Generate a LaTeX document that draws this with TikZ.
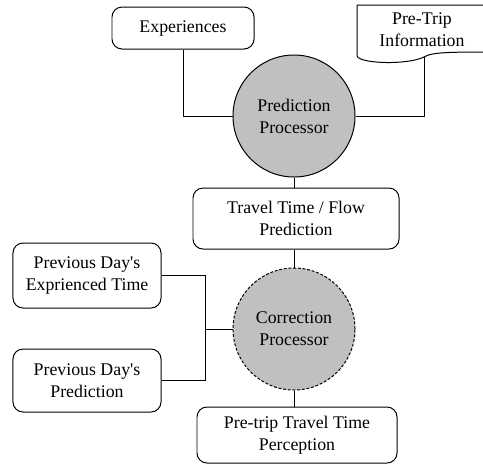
\documentclass[tikz,border=0pt]{standalone}
\usepackage{fontspec}
\setmainfont{Liberation Serif}
\usepackage{xcolor}
\usepackage{tikz}

\definecolor{procgray}{RGB}{192,192,192}

\begin{document}
\begin{tikzpicture}[
  x=0.03cm, y=-0.03cm,
  every node/.style={font=\fontsize{15.2pt}{18.8pt}\selectfont, align=center},
  box/.style={rectangle, draw, rounded corners=0.3cm, line width=0.85pt, inner sep=0pt},
  proc/.style={circle, draw, fill=procgray, line width=0.85pt, minimum size=3.66cm, inner sep=0pt},
  link/.style={line width=0.85pt}
]
\useasboundingbox (0,0) rectangle (483,464);

% Prediction part
\node[box, minimum width=4.26cm, minimum height=1.26cm] (exp) at (183,28) {Experiences};
\node[proc] (pred) at (294,116) {Prediction\\Processor};

% Pre-trip information document
\draw[link] (500,5) -- (357,5) -- (357,56)
  .. controls (360,64) and (408,65) .. (424,57)
  .. controls (432,52) and (450,52) .. (500,52);
\node (info) at (422,30) {Pre-Trip\\Information};
\coordinate (infobot) at (424,57);

\node[box, minimum width=6.18cm, minimum height=1.83cm] (travel) at (296,218.5) {Travel Time / Flow\\Prediction};

% Correction part
\node[proc, dash pattern=on 2.5pt off 1.5pt] (corr) at (294,329) {Correction\\Processor};
\node[box, minimum width=4.44cm, minimum height=1.95cm] (prevexp) at (87,275.5) {Previous Day\textquotesingle s\\Exprienced Time};
\node[box, minimum width=4.44cm, minimum height=1.89cm] (prevpred) at (87,380.5) {Previous Day\textquotesingle s\\Prediction};
\coordinate (join) at (205,329);
\node[box, minimum width=6cm, minimum height=1.68cm] (perc) at (297,435) {Pre-trip Travel Time\\Perception};

% Wires
\draw[link] (exp.south) |- (pred.west);
\draw[link] (infobot) |- (pred.east);
\draw[link] (pred.south) -- (travel.north -| pred.south);
\draw[link] (travel.south -| corr.north) -- (corr.north);
\draw[link] (prevexp.east) -| (join) -- (corr.west);
\draw[link] (prevpred.east) -| (join);
\draw[link] (corr.south) -- (perc.north -| corr.south);

\end{tikzpicture}
\end{document}
